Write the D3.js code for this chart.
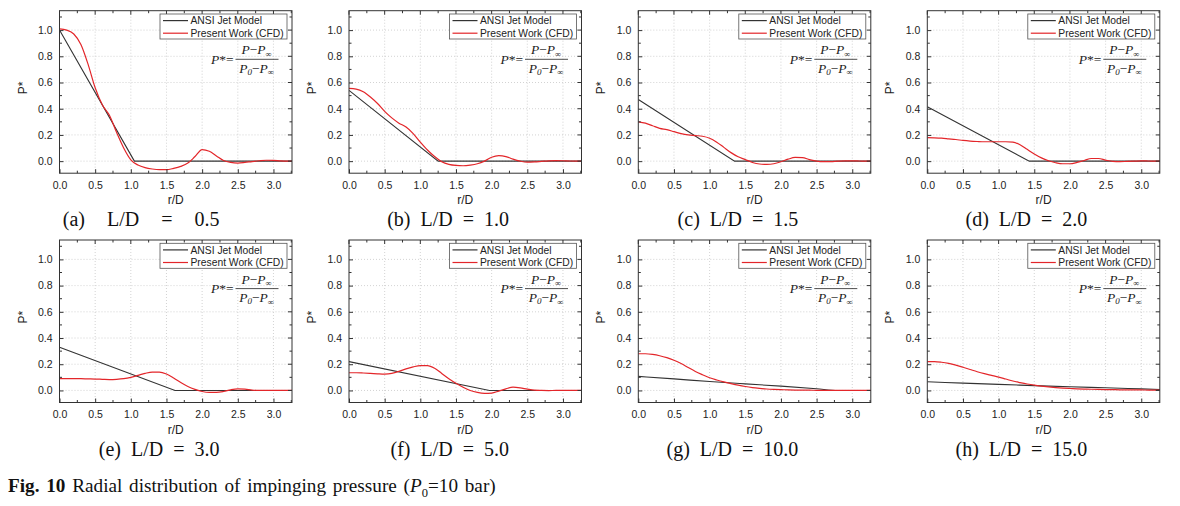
<!DOCTYPE html>
<html><head><meta charset="utf-8">
<script src="https://cdn.jsdelivr.net/npm/d3@7"></script>
<style>body{margin:0;background:#fff}svg{display:block}</style>
</head><body><svg id="c" width="1180" height="506"></svg>
<script>
// ---------------- data ----------------
const rD = [0,0.1,0.2,0.3,0.4,0.5,0.6,0.7,0.8,0.9,1.0,1.1,1.2,1.3,1.4,1.5,1.6,1.7,1.8,1.9,2.0,2.1,2.2,2.3,2.4,2.5,2.6,2.7,2.8,2.9,3.0,3.1,3.2,3.3];
const captions = ["(a)  L/D  =  0.5","(b) L/D = 1.0","(c) L/D = 1.5","(d) L/D = 2.0","(e) L/D = 3.0","(f) L/D = 5.0","(g) L/D = 10.0","(h) L/D = 15.0"];
const seriesNames = ["ANSI Jet Model","Present Work (CFD)"];
const xTicks = [0,0.5,1.0,1.5,2.0,2.5,3.0];
const yTicks = [0,0.2,0.4,0.6,0.8,1.0];

const cfdA = [1.01,1.0,0.97,0.89,0.74,0.56,0.43,0.35,0.22,0.10,0.01,-0.03,-0.05,-0.06,-0.065,-0.065,-0.055,-0.04,-0.015,0.035,0.088,0.075,0.04,0.005,-0.01,-0.015,-0.01,-0.003,0.003,0.007,0.006,0.002,0.0,0.0];
const cfdB = [0.555,0.55,0.53,0.49,0.44,0.38,0.33,0.29,0.26,0.21,0.145,0.085,0.035,-0.005,-0.025,-0.033,-0.035,-0.03,-0.02,0.0,0.03,0.042,0.035,0.015,0.0,-0.008,-0.006,-0.002,0.002,0.004,0.003,0.001,0.0,0.0];
const cfdC = [0.30,0.29,0.27,0.25,0.24,0.225,0.21,0.20,0.195,0.19,0.175,0.145,0.105,0.065,0.033,0.012,-0.01,-0.022,-0.025,-0.02,-0.005,0.015,0.028,0.027,0.012,0.0,-0.004,-0.003,0.0,0.002,0.002,0.001,0.0,0.0];
const cfdD = [0.18,0.178,0.175,0.17,0.165,0.158,0.153,0.15,0.148,0.148,0.148,0.148,0.145,0.125,0.09,0.055,0.025,0.003,-0.012,-0.02,-0.02,-0.01,0.005,0.02,0.02,0.008,-0.002,-0.004,-0.002,0.0,0.002,0.001,0.0,0.0];
const cfdE = [0.09,0.09,0.09,0.09,0.088,0.087,0.085,0.083,0.085,0.09,0.10,0.115,0.13,0.14,0.14,0.125,0.095,0.06,0.03,0.008,-0.008,-0.015,-0.015,-0.008,0.005,0.012,0.01,0.003,0.0,0.0,0.0,0.0,0.0,0.0];
const cfdF = [0.135,0.135,0.133,0.13,0.127,0.125,0.13,0.145,0.165,0.18,0.19,0.19,0.17,0.13,0.09,0.055,0.025,0.0,-0.015,-0.022,-0.02,-0.005,0.012,0.025,0.02,0.01,0.002,0.0,-0.001,0.0,0.0,0.0,0.0,0.0];
const cfdG = [0.28,0.28,0.275,0.265,0.25,0.23,0.205,0.175,0.145,0.12,0.097,0.08,0.065,0.052,0.04,0.03,0.022,0.016,0.011,0.008,0.006,0.004,0.003,0.002,0.002,0.001,0.001,0.0,0.0,0.0,0.0,0.0,0.0,0.0];
const cfdH = [0.22,0.22,0.215,0.206,0.193,0.177,0.16,0.143,0.128,0.115,0.102,0.087,0.072,0.06,0.049,0.04,0.033,0.027,0.022,0.018,0.015,0.012,0.01,0.009,0.008,0.007,0.006,0.005,0.005,0.004,0.004,0.003,0.003,0.003];

const ansiXA = [0,1.05,3.3],  ansiYA = [1.0,0,0];
const ansiXB = [0,1.25,3.3],  ansiYB = [0.54,0,0];
const ansiXC = [0,1.35,3.3],  ansiYC = [0.47,0,0];
const ansiXD = [0,1.43,3.3],  ansiYD = [0.415,0,0];
const ansiXE = [0,1.62,3.3],  ansiYE = [0.33,0,0];
const ansiXF = [0,1.97,3.3],  ansiYF = [0.22,0,0];
const ansiXG = [0,0.5,1.0,1.5,2.0,2.5,2.8,3.3], ansiYG = [0.107,0.088,0.068,0.05,0.033,0.013,0.0,0.0];
const ansiXH = [0,0.5,1.0,1.5,2.0,2.5,3.0,3.3], ansiYH = [0.066,0.056,0.046,0.037,0.028,0.02,0.012,0.007];

// ---------------- build ----------------
const cfdAll = [cfdA,cfdB,cfdC,cfdD,cfdE,cfdF,cfdG,cfdH];
const ansiXAll = [ansiXA,ansiXB,ansiXC,ansiXD,ansiXE,ansiXF,ansiXG,ansiXH];
const ansiYAll = [ansiYA,ansiYB,ansiYC,ansiYD,ansiYE,ansiYF,ansiYG,ansiYH];

const svg = d3.select("#c");
const colLeft = [59.5,349,638.3,927.3];
const rowTop = [10.7,240];
const W = 232.5, H = 162.5;
const RED = "#e3262a", BLK = "#333";
const sans = "'Liberation Sans', Arial, sans-serif";
const serif = "'Liberation Serif','Times New Roman', serif";

const defs = svg.append("defs");
defs.append("clipPath").attr("id","clip").append("rect").attr("width",W).attr("height",H);

cfdAll.forEach((cfd,i)=>{
  const L = colLeft[i%4], T = rowTop[Math.floor(i/4)];
  const g = svg.append("g").attr("transform",`translate(${L},${T})`);
  const x = d3.scaleLinear().domain([0,3.26]).range([0,W]);
  const y = d3.scaleLinear().domain([-0.092,1.148]).range([H,0]);

  // grid
  g.append("g").selectAll("line").data(xTicks.filter(d=>d>0)).join("line")
    .attr("x1",d=>x(d)).attr("x2",d=>x(d)).attr("y1",0).attr("y2",H)
    .attr("stroke","#c8c8c8").attr("stroke-width",0.8).attr("stroke-dasharray","1,2");
  g.append("g").selectAll("line").data(yTicks).join("line")
    .attr("y1",d=>y(d)).attr("y2",d=>y(d)).attr("x1",0).attr("x2",W)
    .attr("stroke","#c8c8c8").attr("stroke-width",0.8).attr("stroke-dasharray","1,2");

  // lines
  const cl = g.append("g").attr("clip-path","url(#clip)");
  const ansi = ansiXAll[i].map((v,k)=>[v,ansiYAll[i][k]]);
  cl.append("path").datum(ansi)
    .attr("d",d3.line().x(d=>x(d[0])).y(d=>y(d[1])).curve(i>=6?d3.curveMonotoneX:d3.curveLinear))
    .attr("fill","none").attr("stroke",BLK).attr("stroke-width",1.1);
  cl.append("path").datum(rD.map((v,k)=>[v,cfd[k]]))
    .attr("d",d3.line().x(d=>x(d[0])).y(d=>y(d[1])).curve(d3.curveMonotoneX))
    .attr("fill","none").attr("stroke",RED).attr("stroke-width",1.2);

  // axes with inward ticks
  const xa = d3.axisBottom(x).tickValues(xTicks).tickSizeInner(-4).tickSizeOuter(0).tickPadding(6).tickFormat(d3.format(".1f"));
  const xb = g.append("g").attr("transform",`translate(0,${H})`).call(xa);
  const ya = d3.axisLeft(y).tickValues(yTicks).tickSizeInner(-4).tickSizeOuter(0).tickPadding(7).tickFormat(d3.format(".1f"));
  const yb = g.append("g").call(ya);
  [xb,yb].forEach(a=>{
    a.select(".domain").remove();
    a.selectAll("text").attr("font-family",sans).attr("font-size",10.5).attr("fill","#222");
    a.selectAll("line").attr("stroke","#333");
  });
  xb.selectAll("text").attr("dy","0.9em");
  // minor ticks & mirrored ticks
  const xMinor = d3.range(0.25,3.26,0.5), yMinor = d3.range(-0.1,1.15,0.2).filter(d=>d>-0.092);
  const tk = g.append("g").attr("stroke","#333").attr("stroke-width",1);
  xMinor.forEach(v=>{tk.append("line").attr("x1",x(v)).attr("x2",x(v)).attr("y1",H).attr("y2",H-2.5);
                     tk.append("line").attr("x1",x(v)).attr("x2",x(v)).attr("y1",0).attr("y2",2.5);});
  xTicks.forEach(v=>{tk.append("line").attr("x1",x(v)).attr("x2",x(v)).attr("y1",0).attr("y2",4);});
  yMinor.forEach(v=>{tk.append("line").attr("y1",y(v)).attr("y2",y(v)).attr("x1",0).attr("x2",2.5);
                     tk.append("line").attr("y1",y(v)).attr("y2",y(v)).attr("x1",W).attr("x2",W-2.5);});
  yTicks.forEach(v=>{tk.append("line").attr("y1",y(v)).attr("y2",y(v)).attr("x1",W).attr("x2",W-4);});

  // frame
  g.append("rect").attr("width",W).attr("height",H).attr("fill","none").attr("stroke","#333").attr("stroke-width",1);

  // axis titles
  g.append("text").attr("x",W/2).attr("y",H+31).attr("text-anchor","middle")
    .attr("font-family",sans).attr("font-size",12).attr("fill","#222").text("r/D");
  g.append("text").attr("transform",`translate(${-33},${H/2-4}) rotate(-90)`).attr("text-anchor","middle")
    .attr("font-family",sans).attr("font-size",12).attr("fill","#222").text("P*");

  // legend
  const lg = g.append("g").attr("transform",`translate(${100.5},${3.3})`);
  lg.append("rect").attr("width",127).attr("height",25).attr("fill","#fff").attr("stroke","#555").attr("stroke-width",0.8);
  [BLK,RED].forEach((c,k)=>{
    const yy = 6.6 + k*12.6;
    lg.append("line").attr("x1",3).attr("x2",28).attr("y1",yy).attr("y2",yy).attr("stroke",c).attr("stroke-width",1.2);
    lg.append("text").attr("x",30.5).attr("y",yy+3.7).attr("font-family",sans).attr("font-size",10.3).attr("fill","#222").text(seriesNames[k]);
  });

  // formula
  const fx = 197, fy = 48.6;
  const f = g.append("g").attr("font-family",serif).attr("font-style","italic").attr("fill","#222").attr("font-size",13.5);
  const t0 = f.append("text").attr("x",fx-23).attr("y",fy+4.5).attr("text-anchor","end");
  t0.append("tspan").text("P");
  t0.append("tspan").attr("font-style","normal").text("*=");
  const num = f.append("text").attr("x",fx).attr("y",fy-5).attr("text-anchor","middle");
  num.append("tspan").text("P");
  num.append("tspan").attr("font-style","normal").text("\u2212");
  num.append("tspan").text("P");
  num.append("tspan").attr("font-size",8.5).attr("dy",2.5).attr("font-style","normal").text("\u221e");
  const den = f.append("text").attr("x",fx).attr("y",fy+13.5).attr("text-anchor","middle");
  den.append("tspan").text("P");
  den.append("tspan").attr("font-size",9).attr("dy",2).text("0");
  den.append("tspan").attr("dy",-2).attr("font-style","normal").text("\u2212");
  den.append("tspan").text("P");
  den.append("tspan").attr("font-size",8.5).attr("dy",2.5).attr("font-style","normal").text("\u221e");
  f.append("line").attr("x1",fx-21).attr("x2",fx+22).attr("y1",fy).attr("y2",fy).attr("stroke","#222").attr("stroke-width",0.8);

  // caption
  g.append("text").attr("x",160).attr("y",H+53).attr("text-anchor","end")
    .attr("font-family",serif).attr("font-size",20).attr("fill","#111")
    .attr("word-spacing",i===0?6:5).style("white-space","pre").text(captions[i]);
});

// figure caption
const fc = svg.append("text").attr("x",8).attr("y",492).attr("font-family",serif).attr("font-size",19.2)
  .attr("fill","#111").attr("word-spacing",2);
fc.append("tspan").attr("font-weight","bold").text("Fig. 10");
fc.append("tspan").text(" Radial distribution of impinging pressure (");
fc.append("tspan").attr("font-style","italic").text("P");
fc.append("tspan").attr("font-size",12.5).attr("dy",5).text("0");
fc.append("tspan").attr("dy",-5).text("=10 bar)");
</script></body></html>
